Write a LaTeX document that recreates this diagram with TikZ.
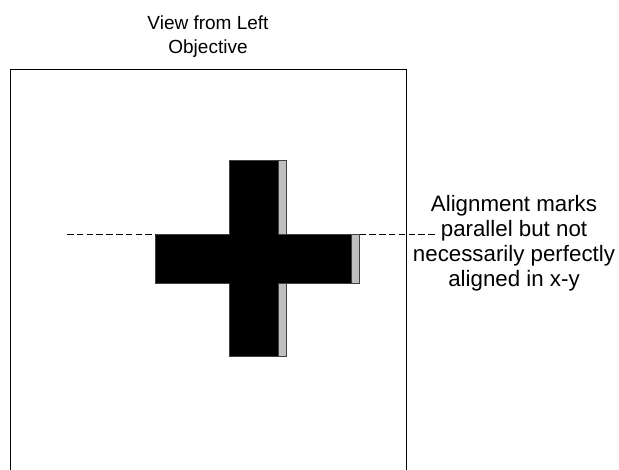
\documentclass[tikz,border=0pt]{standalone}
\usepackage{fontspec}
\setmainfont{Liberation Sans}
\begin{document}
\begin{tikzpicture}[x=1pt,y=-1pt,
  frameline/.style={draw=black,line width=0.9pt},
  crossblack/.style={fill=black,draw=black!75,line width=0.6pt},
  crossgray/.style={fill=black!25,draw=black!75,line width=0.6pt},
  guide/.style={draw=black,line width=0.8pt,dash pattern=on 6.5pt off 3.3pt},
  toplabel/.style={align=center,inner sep=0pt,font=\fontsize{19}{23.5}\selectfont},
  sidelabel/.style={align=center,inner sep=0pt,font=\fontsize{22.3}{25}\selectfont}]
\useasboundingbox (0,0) rectangle (619,470);
% frame (open at the bottom)
\coordinate (fbl) at (10,471);
\coordinate (ftl) at (10,69);
\coordinate (ftr) at (406.5,69);
\coordinate (fbr) at (406.5,471);
\draw[frameline] (fbl) -- (ftl) -- (ftr) -- (fbr);
% title
\node[toplabel] (title) at (208,36.5) {View from Left\\Objective};
% gray (offset) cross
\draw[crossgray] (237,160.5) -- (286,160.5) -- (286,234.5) -- (359.5,234.5) -- (359.5,283.5)
  -- (286,283.5) -- (286,356.5) -- (237,356.5) -- (237,283.5) -- (163,283.5) -- (163,234.5) -- (237,234.5) -- cycle;
% black cross
\draw[crossblack] (229,160.5) -- (278,160.5) -- (278,234.5) -- (351.5,234.5) -- (351.5,283.5)
  -- (278,283.5) -- (278,356.5) -- (229,356.5) -- (229,283.5) -- (155.5,283.5) -- (155.5,234.5) -- (229,234.5) -- cycle;
% dashed alignment guides
\coordinate (gl1) at (67,234.5);
\coordinate (gl2) at (155.5,234.5);
\coordinate (gr1) at (359.5,234.5);
\coordinate (gr2) at (437,234.5);
\draw[guide] (gl1) -- (gl2);
\draw[guide] (gr1) -- (gr2);
% side label
\node[sidelabel] (note) at (514,243.5) {Alignment marks\\parallel but not\\necessarily perfectly\\aligned in x-y};
\end{tikzpicture}
\end{document}
